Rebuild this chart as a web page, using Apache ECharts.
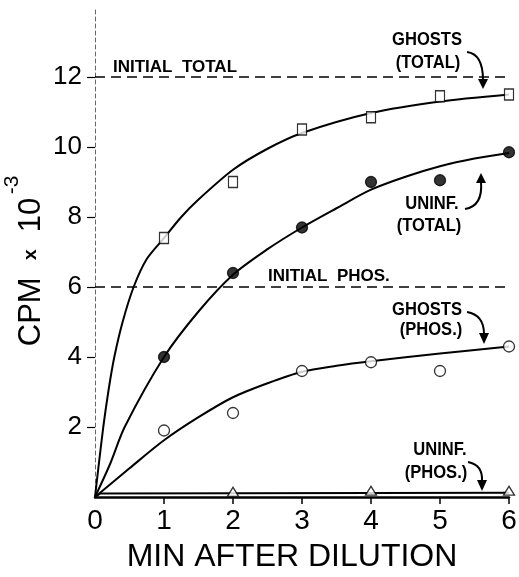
<!DOCTYPE html>
<html>
<head>
<meta charset="utf-8">
<script src="https://cdn.jsdelivr.net/npm/echarts@6/dist/echarts.min.js"></script>
<style>
  html, body { margin: 0; padding: 0; background: #fff; }
  #chart { width: 519px; height: 577px; }
</style>
</head>
<body>
<div id="chart"></div>
<script>
// measured points (min after dilution, CPM x 10^-3)
const minutes = [1, 2, 3, 4, 5, 6];
const ghostsTotal = [7.4, 9.0, 10.5, 10.85, 11.45, 11.5];
const uninfTotal = [4.0, 6.4, 7.7, 9.0, 9.05, 9.85];
const ghostsPhos = [1.9, 2.4, 3.6, 3.85, 3.6, 4.3];
const uninfPhosMinutes = [2, 4, 6];
const uninfPhos = [0.15, 0.18, 0.18];

// hand-drawn fit curves
const ghostsTotalFitX = [0, 0.05, 0.12, 0.2, 0.28, 0.4, 0.56, 0.75, 1, 1.25, 1.5, 2, 2.5, 3, 4, 5, 6];
const ghostsTotalFitY = [0, 0.85, 2, 3.1, 4, 5.0, 6, 6.8, 7.4, 8.0, 8.5, 9.35, 9.95, 10.4, 10.97, 11.3, 11.5];
const uninfTotalFitX = [0, 0.22, 0.43, 1, 1.5, 2, 2.5, 3, 3.5, 4, 4.5, 5, 5.5, 6];
const uninfTotalFitY = [0, 0.95, 2, 4, 5.3, 6.35, 7.08, 7.7, 8.25, 8.78, 9.15, 9.45, 9.67, 9.83];
const ghostsPhosFitX = [0, 0.5, 1, 1.5, 2, 2.5, 3, 3.5, 4, 5, 6];
const ghostsPhosFitY = [0, 0.82, 1.62, 2.28, 2.85, 3.25, 3.58, 3.75, 3.88, 4.1, 4.3];
const uninfPhosFitX = [0, 0.08, 6];
const uninfPhosFitY = [0, 0.1, 0.12];

const initialTotal = 12;
const initialPhos = 6;

const xTicks = [1, 2, 3, 4, 5, 6];
const xLabels = [0, 1, 2, 3, 4, 5, 6];
const yTicks = [2, 4, 6, 8, 10, 12];

const pairs = (xs, ys) => xs.map((x, i) => [x, ys[i]]);

const chart = echarts.init(document.getElementById('chart'));

const labelFont = 'bold 18px "Liberation Sans", Arial, sans-serif';

function arrow(x1, y1, cpx, cpy, x2, y2, head) {
  return [
    {
      type: 'bezierCurve',
      shape: { x1, y1, x2, y2, cpx1: cpx, cpy1: cpy },
      style: { stroke: '#000', lineWidth: 2, fill: null },
    },
    {
      type: 'polygon',
      shape: { points: head },
      style: { fill: '#000' },
    },
  ];
}

function label(text, x, y) {
  return {
    type: 'text',
    x,
    y,
    scaleX: 0.92,
    style: { text, font: labelFont, fill: '#000', align: 'center', verticalAlign: 'middle' },
  };
}

function fitLine(data, smooth) {
  return {
    type: 'line',
    data,
    smooth,
    symbol: 'none',
    lineStyle: { color: '#000', width: 2 },
    z: 3,
  };
}

function dashed(value) {
  return {
    type: 'line',
    data: [[0, value], [6.06, value]],
    symbol: 'none',
    clip: false,
    lineStyle: { color: '#000', width: 1.3, type: [10, 6] },
    z: 2,
  };
}

function marks(xs, ys, symbol, size, fill) {
  return {
    type: 'scatter',
    data: pairs(xs, ys),
    symbol,
    symbolSize: size,
    itemStyle: { color: fill, borderColor: '#000', borderWidth: 1.3 },
    z: 5,
  };
}

chart.setOption({
  animation: false,
  backgroundColor: '#fff',
  grid: { left: 95, right: 10, top: 7, bottom: 80, containLabel: false, outerBoundsMode: 'none' },
  xAxis: {
    type: 'value',
    min: 0,
    max: 6,
    interval: 1,
    name: 'MIN AFTER DILUTION',
    nameLocation: 'middle',
    nameGap: 44,
    nameTextStyle: { fontFamily: 'Liberation Sans', fontSize: 32, color: '#000', padding: [0, 20, 0, 0] },
    axisLine: { onZero: false, lineStyle: { color: '#000', width: 2.5 } },
    axisTick: { customValues: xTicks, length: 7, lineStyle: { color: '#000', width: 1.5 } },
    axisLabel: { customValues: xLabels, margin: 10, fontFamily: 'Liberation Sans', fontSize: 28, color: '#000' },
    splitLine: { show: false },
  },
  yAxis: {
    type: 'value',
    min: 0,
    max: 14,
    interval: 2,
    axisLine: { lineStyle: { color: '#666', width: 1, type: [4, 3] } },
    axisTick: { customValues: yTicks, length: 8, lineStyle: { color: '#000', width: 1.2 } },
    axisLabel: { customValues: yTicks, margin: 13, fontFamily: 'Liberation Sans', fontSize: 26, color: '#000' },
    splitLine: { show: false },
  },
  series: [
    dashed(initialTotal),
    dashed(initialPhos),
    fitLine(pairs(ghostsTotalFitX, ghostsTotalFitY), 0.25),
    fitLine(pairs(uninfTotalFitX, uninfTotalFitY), 0.3),
    fitLine(pairs(ghostsPhosFitX, ghostsPhosFitY), 0.3),
    fitLine(pairs(uninfPhosFitX, uninfPhosFitY), false),
    marks(minutes, ghostsTotal, 'rect', [9, 11], '#fff'),
    marks(minutes, uninfTotal, 'circle', 11, '#000'),
    marks(minutes, ghostsPhos, 'circle', 11, '#fff'),
    marks(uninfPhosMinutes, uninfPhos, 'triangle', [11, 9], '#fff'),
  ],
  graphic: [
    {
      type: 'text',
      x: 31,
      y: 272,
      rotation: Math.PI / 2,
      style: {
        text: '{a|CPM  }{b|x}{a|  10}',
        align: 'center',
        verticalAlign: 'middle',
        rich: {
          a: { fontFamily: 'Liberation Sans', fontSize: 31, fill: '#000' },
          b: { fontFamily: 'Liberation Sans', fontSize: 19, fontWeight: 'bold', fill: '#000' },
        },
      },
    },
    {
      type: 'text',
      x: 12,
      y: 185,
      rotation: Math.PI / 2,
      style: { text: '-3', font: '21px "Liberation Sans", sans-serif', fill: '#000', align: 'center', verticalAlign: 'middle' },
    },
    {
      type: 'text',
      x: 113,
      y: 67,
      style: { text: 'INITIAL  TOTAL', font: 'bold 17px "Liberation Sans", sans-serif', fill: '#000', align: 'left', verticalAlign: 'middle' },
    },
    {
      type: 'text',
      x: 268,
      y: 276,
      style: { text: 'INITIAL  PHOS.', font: 'bold 17px "Liberation Sans", sans-serif', fill: '#000', align: 'left', verticalAlign: 'middle' },
    },
    label('GHOSTS', 427, 40),
    label('(TOTAL)', 428, 63),
    ...arrow(467, 52, 483, 54, 483, 80, [[478, 79], [488, 79], [483, 89]]),
    label('UNINF.', 432, 204),
    label('(TOTAL)', 429, 226),
    ...arrow(465, 209, 483, 206, 481, 182, [[476, 183], [486, 183], [481, 173]]),
    label('GHOSTS', 427, 310),
    label('(PHOS.)', 431, 330),
    ...arrow(467, 312, 484, 315, 484, 334, [[479, 333], [489, 333], [484, 344]]),
    label('UNINF.', 440, 450),
    label('(PHOS.)', 436, 473),
    ...arrow(468, 462, 483, 465, 482, 481, [[477, 480], [487, 480], [482, 491]]),
  ],
});
</script>
</body>
</html>
